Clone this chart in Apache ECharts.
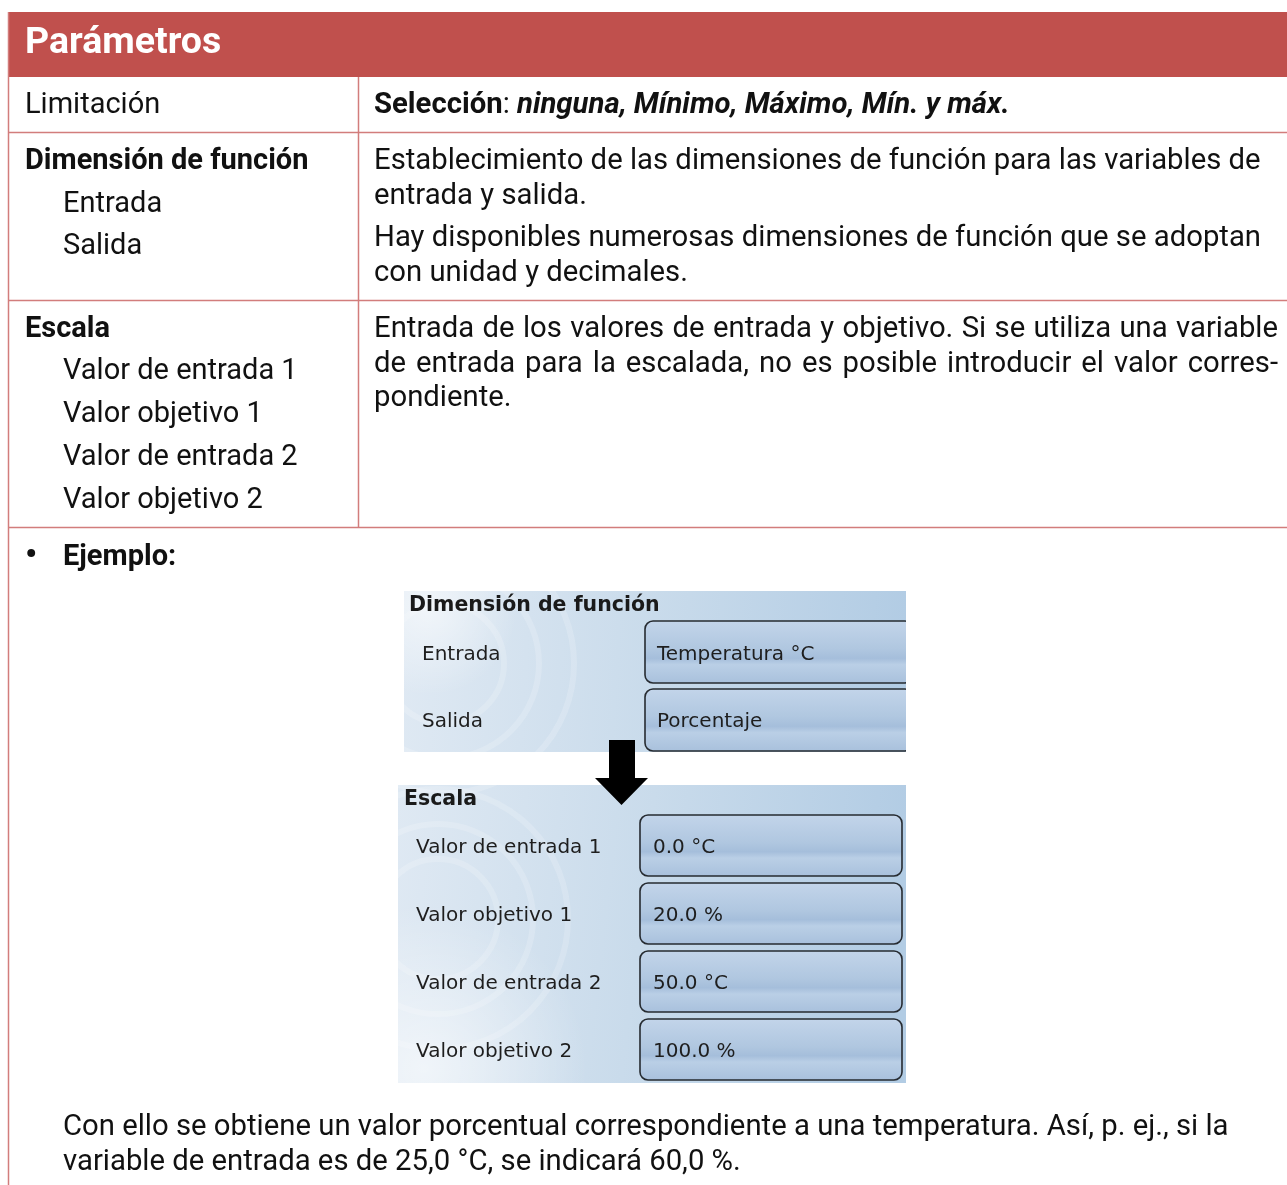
<!DOCTYPE html>
<html><head><meta charset="utf-8">
<script src="https://cdn.jsdelivr.net/npm/echarts@6/dist/echarts.min.js"></script>
<style>html,body{margin:0;padding:0;background:#fff;overflow:hidden}#c{width:1287px;height:1185px}</style>
</head><body><div id="c"></div>
<script>
// ---------- content ----------
const headerTitle = 'Parámetros';
const limitLabel = 'Limitación';
const limitSelKey = 'Selección';
const limitSelValues = 'ninguna, Mínimo, Máximo, Mín. y máx.';
const dimHeader = 'Dimensión de función';
const dimSubs = ['Entrada', 'Salida'];
const dimDesc = ['Establecimiento de las dimensiones de función para las variables de', 'entrada y salida.',
                 'Hay disponibles numerosas dimensiones de función que se adoptan', 'con unidad y decimales.'];
const escHeader = 'Escala';
const escSubs = ['Valor de entrada 1', 'Valor objetivo 1', 'Valor de entrada 2', 'Valor objetivo 2'];
const escDesc = ['Entrada de los valores de entrada y objetivo. Si se utiliza una variable',
                 'de entrada para la escalada, no es posible introducir el valor corres-',
                 'pondiente.'];
const exampleLabel = 'Ejemplo:';
const panelDimTitle = 'Dimensión de función';
const panelDimLabels = ['Entrada', 'Salida'];
const panelDimValues = ['Temperatura °C', 'Porcentaje'];
const panelEscTitle = 'Escala';
const panelEscLabels = ['Valor de entrada 1', 'Valor objetivo 1', 'Valor de entrada 2', 'Valor objetivo 2'];
const panelEscValues = ['0.0 °C', '20.0 %', '50.0 °C', '100.0 %'];
const conclusion = ['Con ello se obtiene un valor porcentual correspondiente a una temperatura. Así, p. ej., si la',
                    'variable de entrada es de 25,0 °C, se indicará 60,0 %.'];

// ---------- layout / style ----------
const RED = '#C0504D', LINE = '#D27D7C', INK = '#111111';
const FF = 'Roboto';
const FS = 29;        // body font size
const RS = 1.01;      // horizontal scale of right-hand text
const ctx = document.createElement('canvas').getContext('2d');
function measure(t, font) { ctx.font = font; return ctx.measureText(t).width; }

const g = [];
function txt(x, y, text, size, weight, opt) {
  opt = opt || {};
  g.push({type: 'text', x: x, y: y, scaleX: opt.sx || 1, z: 10,
    style: {text: text, x: 0, y: 0, fill: opt.fill || INK, font: (opt.style || 'normal') + ' ' + (weight || 'normal') + ' ' + size + 'px ' + (opt.family || FF),
      textAlign: 'left', textVerticalAlign: 'middle', rich: opt.rich}});
}
function justified(x, y, text, width, size) {
  const font = 'normal ' + size + 'px ' + FF;
  const words = text.split(' ');
  const ws = words.map(w => measure(w, font) * RS);
  const gap = (width - ws.reduce((a, b) => a + b, 0)) / (words.length - 1);
  let cx = x;
  words.forEach((w, i) => { txt(cx, y, w, size, 'normal', {sx: RS}); cx += ws[i] + gap; });
}
function hline(x1, x2, y, c) { g.push({type: 'line', z: 5, shape: {x1: x1, y1: y, x2: x2, y2: y}, style: {stroke: c || LINE, lineWidth: 1.5}}); }
function vline(x, y1, y2, c) { g.push({type: 'line', z: 5, shape: {x1: x, y1: y1, x2: x, y2: y2}, style: {stroke: c || LINE, lineWidth: 1.5}}); }

// header
g.push({type: 'rect', z: 1, shape: {x: 8, y: 12, width: 1290, height: 65}, style: {fill: RED}});
txt(25, 44, headerTitle, 37.5, 'bold', {fill: '#ffffff'});

// table lines
vline(8.5, 12, 1185);
vline(358.5, 77, 527);
hline(8, 1287, 132.5);
hline(8, 1287, 300.5);
hline(8, 1287, 527.5);

// row 1
txt(25, 106, limitLabel, FS);
txt(374, 106, '{b|' + limitSelKey + '}{n|: }{bi|' + limitSelValues + '}', FS, 'normal', {sx: RS, rich: {
  b: {font: 'bold ' + FS + 'px ' + FF, fill: INK}, n: {font: 'normal ' + FS + 'px ' + FF, fill: INK}, bi: {font: 'italic bold ' + FS + 'px ' + FF, fill: INK}}});

// row 2
txt(25, 162, dimHeader, FS, 'bold');
const dimSubY = [205, 247];
dimSubs.forEach((s, i) => txt(63, dimSubY[i], s, FS));
const dimDescY = [162, 197, 239, 274];
dimDesc.forEach((s, i) => txt(374, dimDescY[i], s, FS, 'normal', {sx: RS}));

// row 3
txt(25, 330, escHeader, FS, 'bold');
const escSubY = [372, 415, 458, 501];
escSubs.forEach((s, i) => txt(63, escSubY[i], s, FS));
const escDescY = [330, 365, 399];
justified(374, escDescY[0], escDesc[0], 904, FS);
justified(374, escDescY[1], escDesc[1], 904, FS);
txt(374, escDescY[2], escDesc[2], FS, 'normal', {sx: RS});

// row 4
txt(25, 556, '•', 34, 'bold');
txt(63, 558, exampleLabel, FS, 'bold');

// ---------- screenshot panel ----------
const PF = 'DejaVu Sans', PS = 20;
function panelBg(x, y, w, h, lightY) {
  g.push({type: 'rect', z: 2, shape: {x: x, y: y, width: w, height: h},
    style: {fill: new echarts.graphic.LinearGradient(0, 0, 1, 0.2, [
      {offset: 0, color: '#dfe9f3'}, {offset: 0.5, color: '#c9dbeb'}, {offset: 1, color: '#b2cce4'}])}});
  g.push({type: 'rect', z: 3, shape: {x: x, y: y, width: w, height: h},
    style: {fill: new echarts.graphic.RadialGradient(0.05, lightY, 0.55, [
      {offset: 0, color: 'rgba(255,255,255,0.6)'}, {offset: 1, color: 'rgba(255,255,255,0)'}])}});
  [60, 95, 130].forEach(r => g.push({type: 'circle', z: 3, shape: {cx: x + 40, cy: y + h * 0.45, r: r},
    style: {fill: 'none', stroke: 'rgba(255,255,255,0.18)', lineWidth: 6}}));
}
function valueBox(x, y, w, h) {
  g.push({type: 'rect', z: 4, shape: {x: x, y: y, width: w, height: h, r: 8},
    style: {stroke: '#262b31', lineWidth: 1.6, fill: new echarts.graphic.LinearGradient(0, 0, 0, 1, [
      {offset: 0, color: '#c3d5ea'}, {offset: 0.45, color: '#b0c7e0'}, {offset: 0.6, color: '#a5bedb'}, {offset: 0.7, color: '#bacfe6'}, {offset: 1, color: '#a8c0dc'}])}});
}
panelBg(404, 591, 502, 161, 0.1);
txt(409, 606, panelDimTitle, 20.5, 'bold', {family: PF, fill: '#1a1a1a'});
const pDimY = [655, 722];
const pDimBoxY = [621, 689];
panelDimLabels.forEach((s, i) => txt(422, pDimY[i], s, PS, 'normal', {family: PF, fill: '#1e1e1e'}));
panelDimValues.forEach((s, i) => { valueBox(645, pDimBoxY[i], 268, 62); txt(657, pDimY[i], s, PS, 'normal', {family: PF, fill: '#1e1e1e'}); });
g.push({type: 'rect', z: 6, shape: {x: 906, y: 600, width: 20, height: 160}, style: {fill: '#ffffff'}});
// white covers so the decorative arcs stay inside the two panels
g.push({type: 'rect', z: 3.5, shape: {x: 340, y: 560, width: 64, height: 200}, style: {fill: '#ffffff'}});
panelBg(398, 785, 508, 298, 0.95);
g.push({type: 'rect', z: 3.5, shape: {x: 330, y: 752, width: 68, height: 340}, style: {fill: '#ffffff'}});
g.push({type: 'rect', z: 3.5, shape: {x: 398, y: 752, width: 508, height: 33}, style: {fill: '#ffffff'}});
g.push({type: 'rect', z: 3.5, shape: {x: 398, y: 1083, width: 508, height: 40}, style: {fill: '#ffffff'}});
g.push({type: 'rect', z: 3.5, shape: {x: 380, y: 560, width: 540, height: 31}, style: {fill: '#ffffff'}});
txt(404, 800, panelEscTitle, 20.5, 'bold', {family: PF, fill: '#1a1a1a'});
const pEscY = [848, 916, 984, 1052];
const pEscBoxY = [815, 883, 951, 1019];
panelEscLabels.forEach((s, i) => txt(416, pEscY[i], s, PS, 'normal', {family: PF, fill: '#1e1e1e'}));
panelEscValues.forEach((s, i) => { valueBox(640, pEscBoxY[i], 262, 61); txt(653, pEscY[i], s, PS, 'normal', {family: PF, fill: '#1e1e1e'}); });

// arrow
g.push({type: 'polygon', z: 8, shape: {points: [[609, 740], [635, 740], [635, 778], [648, 778], [621.5, 805], [595, 778], [609, 778]]}, style: {fill: '#000'}});

// conclusion
const concY = [1128, 1163];
conclusion.forEach((s, i) => txt(63, concY[i], s, FS, 'normal', {sx: RS}));

const chart = echarts.init(document.getElementById('c'), null, {renderer: 'canvas'});
chart.setOption({animation: false, graphic: {elements: g}});
</script></body></html>
